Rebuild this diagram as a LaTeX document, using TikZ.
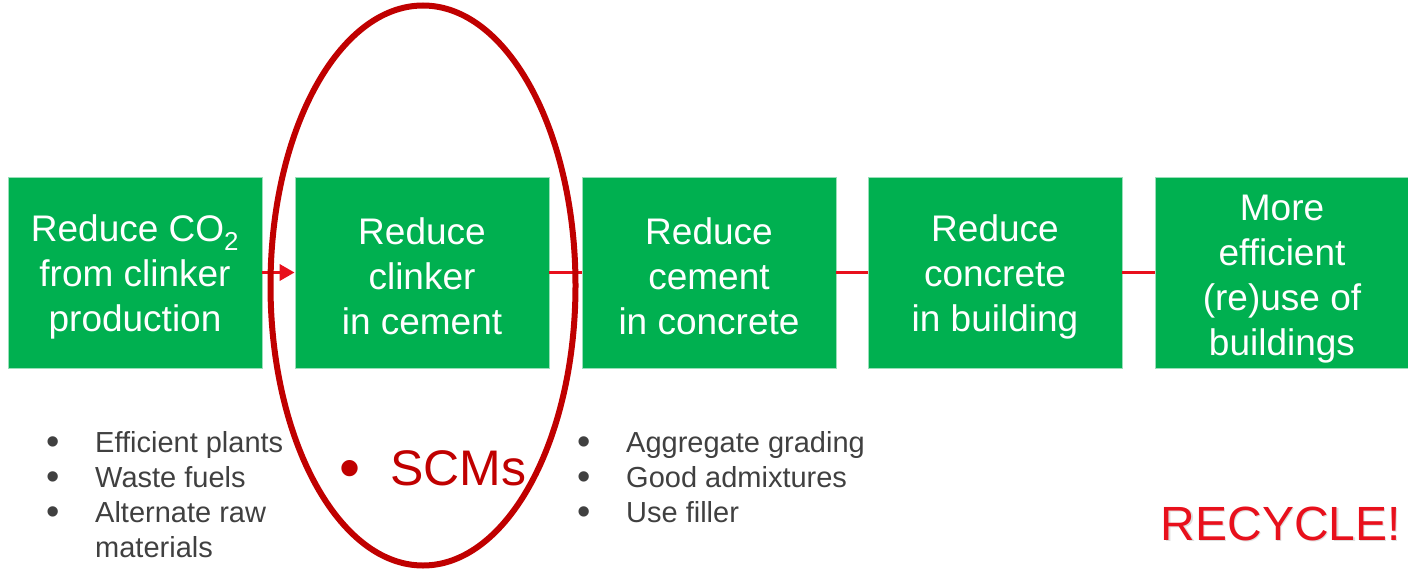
\documentclass[tikz,border=0pt]{standalone}
\usepackage{fontspec}
\setmainfont{Liberation Sans}
\usetikzlibrary{arrows.meta}
\definecolor{boxgreen}{HTML}{00B050}
\definecolor{linkred}{HTML}{E8101C}
\definecolor{ringred}{HTML}{C00000}
\definecolor{listgrey}{HTML}{404040}
% extra room above the first line of a stage label
\newcommand{\firstlinegap}{\rule{0pt}{35pt}}
% list bullet, a little larger than the text's own
\newcommand{\listdot}{\raisebox{-2pt}{\fontsize{38}{35}\selectfont\textbullet}}
\tikzset{
  stagebox/.style={fill=boxgreen, draw=boxgreen!40!white, line width=0.8pt,
    minimum width=254pt, minimum height=191pt, inner sep=0pt,
    text=white, align=center, font=\fontsize{37}{45}\selectfont},
  link/.style={draw=linkred, line width=3.5pt},
  bulletlist/.style={anchor=north west, inner sep=0pt, text=listgrey,
    font=\fontsize{29}{35}\selectfont},
}
\begin{document}
\begin{tikzpicture}[x=1pt, y=-1pt]
\useasboundingbox (0,0) rectangle (1408,570);

% the five stages, left to right
\node[stagebox] (s1) at (135,272.5) {\firstlinegap Reduce CO\textsubscript{2}\\from clinker\\production};
\node[stagebox] (s2) at (422,272.5) {\firstlinegap Reduce\\clinker\\in cement};
\node[stagebox] (s3) at (709,272.5) {\firstlinegap Reduce\\cement\\in concrete};
\node[stagebox] (s4) at (995,272.5) {\firstlinegap Reduce\\concrete\\in building};
\node[stagebox] (s5) at (1282,272.5) {\rule{0pt}{38pt}More\\efficient\\(re)use of\\buildings};

% links between the stages
\draw[link, -{Triangle[length=15pt, width=16pt]}] (s1.east) -- (s2.west);
\draw[link] (s2.east) -- (s3.west);
\draw[link] (s3.east) -- (s4.west);
\draw[link] (s4.east) -- (s5.west);

% measures under the first and third stages
\node[bulletlist] (l1) at (46,427.5) {%
  \begin{tabular}{@{}p{49pt}@{}l@{}}
  \listdot & Efficient plants\\
  \listdot & Waste fuels\\
  \listdot & Alternate raw\\
           & materials
  \end{tabular}};
\node[bulletlist] (l3) at (577,427.5) {%
  \begin{tabular}{@{}p{49pt}@{}l@{}}
  \listdot & Aggregate grading\\
  \listdot & Good admixtures\\
  \listdot & Use filler
  \end{tabular}};

% highlighted stage: supplementary cementitious materials
\draw[ringred, line width=6pt] (423,285.5) ellipse [x radius=152.5pt, y radius=280pt];
\node[text=ringred, font=\fontsize{60}{60}\selectfont, inner sep=0pt] (scmdot) at (350,474) {\textbullet};
\node[text=ringred, font=\fontsize{50}{60}\selectfont, anchor=base west, inner sep=0pt] (scm) at (390,485) {SCMs};

% closing call
\node[text=black!25, opacity=0.5, font=\fontsize{48}{58}\selectfont, anchor=base east, inner sep=0pt] (recshadow) at (1402.5,541.5) {RECYCLE!};
\node[text=linkred, font=\fontsize{48}{58}\selectfont, anchor=base east, inner sep=0pt] (recycle) at (1401,540) {RECYCLE!};
\end{tikzpicture}
\end{document}
